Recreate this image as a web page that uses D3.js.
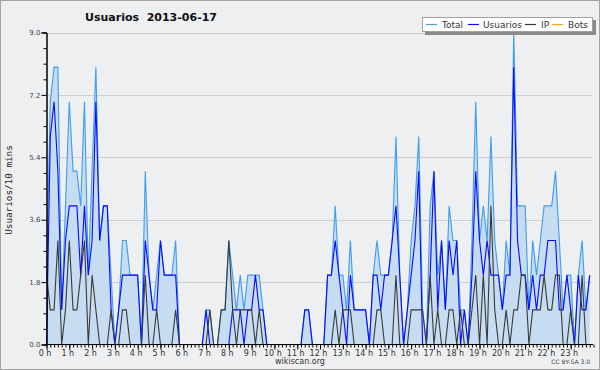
<!DOCTYPE html>
<html><head><meta charset="utf-8">
<script src="https://cdn.jsdelivr.net/npm/d3@7"></script>
<style>body{margin:0;background:#fff}svg{display:block}</style>
</head><body><svg id="c" width="600" height="370"></svg>
<script>
const usuarios = [0,6,7,5,1,3,4,4,4,2, 4,2,3,7,3,4,4,1,0,1, 2,2,2,2,2,0,3,2,1,1, 3,2,2,2,2,0,0,0,0,0,
 0,0,1,0,0,0,0,0,0,1, 1,1,0,1,1,2,1,1,0,0, 0,0,0,0,0,0,0,0,1,1, 0,0,0,0,2,2,3,2,1,0,
 2,1,1,1,1,0,2,2,1,2, 2,3,4,2,0,1,2,3,5,0, 0,2,5,1,3,1,3,2,3,0, 1,0,2,5,3,2,3,2,2,2,
 1,2,2,8,3,2,2,1,2,1, 2,2,3,3,3,1,1,2,1,0, 2,1,1,2];
const ip = [2,1,1,3,0,1,3,1,1,2, 3,0,2,1,0,0,0,1,0,0, 1,1,0,0,0,0,2,0,0,1, 0,0,0,0,1,0,0,0,0,0,
 0,0,0,1,0,0,1,1,3,1, 0,1,1,1,1,0,1,0,0,0, 0,0,0,0,0,0,0,0,0,0, 0,0,0,0,0,0,1,0,1,1,
 1,0,0,0,0,0,0,1,1,0, 0,0,2,0,0,0,1,1,1,1, 0,2,0,1,0,0,1,1,0,1, 0,0,1,2,0,2,0,4,1,0,
 0,1,0,1,1,2,2,0,1,1, 1,2,1,1,2,2,0,0,1,0, 0,2,0,0];
const total = [2,7,8,8,1,4,7,5,5,4, 7,2,5,8,3,4,4,2,0,1, 3,3,2,2,2,0,5,2,1,2, 3,2,2,2,3,0,0,0,0,0,
 0,0,1,1,0,0,1,1,3,2, 1,2,1,2,2,2,2,1,0,0, 0,0,0,0,0,0,0,0,1,1, 0,0,0,0,2,2,4,2,2,1,
 3,1,1,1,1,0,2,3,2,2, 2,3,6,2,0,1,3,4,6,1, 0,4,5,2,3,1,4,3,3,1, 1,0,3,7,3,4,3,6,3,2,
 1,3,2,9,4,4,4,1,3,2, 3,4,4,4,5,3,1,2,2,0, 2,3,1,2];
const bots = [0,0,0,0,0,0,0,0,0,0, 0,0,0,0,0,0,0,0,0,0, 0,0,0,0,0,0,0,0,0,0, 0,0,0,0,0,0,0,0,0,0,
 0,0,0,0,0,0,0,0,0,0, 0,0,0,0,0,0,0,0,0,0, 0,0,0,0,0,0,0,0,0,0, 0,0,0,0,0,0,0,0,0,0,
 0,0,0,0,0,0,0,0,0,0, 0,0,0,0,0,0,0,0,0,0, 0,0,0,0,0,0,0,0,0,0, 0,0,0,0,0,0,0,0,0,0,
 0,0,0,0,0,0,0,0,0,0, 0,0,0,0,0,0,0,0,0,0, 0,0,0,0];
const hourLabels = ["0 h","1 h","2 h","3 h","4 h","5 h","6 h","7 h","8 h","9 h","10 h","11 h",
 "12 h","13 h","14 h","15 h","16 h","17 h","18 h","19 h","20 h","21 h","22 h","23 h"];
const yTickValues = [0, 1.8, 3.6, 5.4, 7.2, 9.0];
const yMinorTicks = [0.45,0.9,1.35,2.25,2.7,3.15,4.05,4.5,4.95,5.85,6.3,6.75,7.65,8.1,8.55];
const seriesNames = ["Total","Usuarios","IP","Bots"];
const colors = {Total:"#3d9df0", Usuarios:"#0a0aff", IP:"#3a3a3a", Bots:"#ffa500"};

const svg = d3.select("#c");
svg.append("rect").attr("x",0.5).attr("y",0.5).attr("width",599).attr("height",369)
  .attr("fill","#eeeff1").attr("stroke","#a4a4a4");

const x = d3.scaleLinear().domain([0,143]).range([46.5, 589.7]);
const y = d3.scaleLinear().domain([0,9]).range([344.5, 32.5]);
const idx = d3.range(total.length);

// grid
svg.append("g").selectAll("line").data(yTickValues.slice(1)).join("line")
  .attr("x1",47).attr("x2",592).attr("y1",d=>Math.round(y(d))+0.5).attr("y2",d=>Math.round(y(d))+0.5)
  .attr("stroke","#cfcfd2").attr("stroke-width",1);

// area
svg.append("path").datum(idx)
  .attr("d", d3.area().x(i=>x(i)).y0(y(0)).y1(i=>y(total[i])))
  .attr("fill","#c6dcf0");

const line = arr => d3.line().x(i=>x(i)).y(i=>y(arr[i]));
[["Total",total],["Usuarios",usuarios],["IP",ip],["Bots",bots]].forEach(([n,a])=>{
  svg.append("path").datum(idx).attr("d", line(a)(idx)).attr("fill","none")
    .attr("stroke",colors[n]).attr("stroke-width",1.1).attr("stroke-linejoin","miter");
});

// y axis
const yAxis = svg.append("g").attr("transform","translate(46.5,0)")
  .call(d3.axisLeft(y).tickValues(yTickValues).tickFormat(d3.format(".1f")).tickSize(5).tickPadding(1));
const yMinor = svg.append("g").attr("transform","translate(46.5,0)")
  .call(d3.axisLeft(y).tickValues(yMinorTicks).tickFormat("").tickSize(3));
[yAxis,yMinor].forEach(g=>{ g.select(".domain").attr("stroke","#000"); g.selectAll("line").attr("stroke","#000"); });
yAxis.selectAll("text").attr("font-family","DejaVu Sans").attr("font-size",7).attr("fill","#444");

// x axis
const hourIdx = d3.range(0,144,6);
const xMinor = svg.append("g").attr("transform","translate(0,344.5)")
  .call(d3.axisBottom(x).tickValues(idx.concat([144])).tickFormat("").tickSize(3).tickSizeOuter(0));
const xAxis = svg.append("g").attr("transform","translate(0,344.5)")
  .call(d3.axisBottom(x).tickValues(hourIdx).tickFormat((d,i)=>hourLabels[i]).tickSize(5).tickPadding(1).tickSizeOuter(0));
xMinor.select(".domain").attr("d","M46.5,0H593");
xAxis.select(".domain").remove();
[xMinor,xAxis].forEach(g=>{ g.selectAll("line,path").attr("stroke","#000"); });
xAxis.selectAll("text").attr("font-family","DejaVu Sans").attr("font-size",8).attr("fill","#333").attr("dx",-2);

// titles
svg.append("text").attr("x",151).attr("y",21).attr("text-anchor","middle")
  .attr("font-family","DejaVu Sans").attr("font-weight","bold").attr("font-size",11).attr("fill","#111")
  .text("Usuarios  2013-06-17").style("white-space","pre");
svg.append("text").attr("transform","translate(12,190) rotate(-90)").attr("text-anchor","middle")
  .attr("font-family","DejaVu Sans Mono").attr("font-size",9.3).attr("fill","#222").text("Usuarios/10 mins");
svg.append("text").attr("x",300).attr("y",364).attr("text-anchor","middle")
  .attr("font-family","DejaVu Sans").attr("font-size",8).attr("fill","#333").text("wikiscan.org");
svg.append("text").attr("x",590).attr("y",364).attr("text-anchor","end")
  .attr("font-family","DejaVu Sans").attr("font-size",6).attr("fill","#444").text("CC BY-SA 3.0");

// legend
const lg = svg.append("g");
lg.append("rect").attr("x",425).attr("y",20).attr("width",171).attr("height",15).attr("fill","#8a8a8a");
lg.append("rect").attr("x",422.5).attr("y",17.5).attr("width",170).attr("height",14).attr("fill","#fff").attr("stroke","#a0a0a0");
const legX = [426, 468, 525, 552];
const legTX = [442, 483, 541, 568];
seriesNames.forEach((n,i)=>{
  lg.append("line").attr("x1",legX[i]).attr("x2",legX[i]+11).attr("y1",24.5).attr("y2",24.5).attr("stroke",colors[n]).attr("stroke-width",1.2);
  lg.append("text").attr("x",legTX[i]).attr("y",28).attr("font-family","DejaVu Sans").attr("font-size",9).attr("fill","#333").text(n);
});
</script></body></html>
